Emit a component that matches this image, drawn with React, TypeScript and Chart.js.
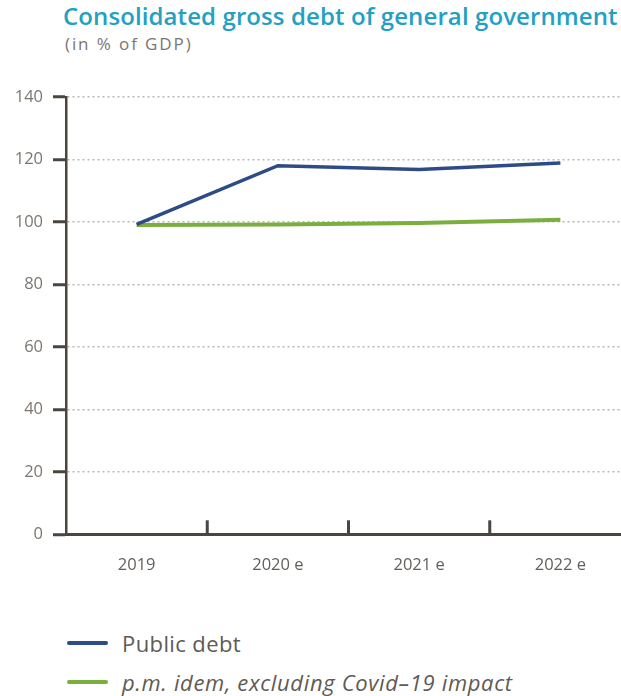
import React, { useEffect, useRef } from "react";
import { Chart, registerables } from "chart.js";

Chart.register(...registerables);

const years = ["2019", "2020 e", "2021 e", "2022 e"];
const publicDebt = [99.2, 118, 116.8, 118.9];
const excludingCovid = [99, 99.2, 99.7, 100.7];
const yTicks = [0, 20, 40, 60, 80, 100, 120, 140];

const AXIS = "#4a463f";
const BLUE = "#2d4b87";
const GREEN = "#7aae3f";
const FONT = "'Open Sans', 'Noto Sans', sans-serif";

// Short upward marks on the category axis, placed between categories
const categoryMarks = {
  id: "categoryMarks",
  afterDraw(chart: any) {
    const x = chart.scales.x;
    const ctx = chart.ctx;
    const y0 = x.top;
    ctx.save();
    ctx.strokeStyle = AXIS;
    ctx.lineWidth = 3;
    for (let i = 1; i < years.length; i++) {
      const px = (x.getPixelForTick(i - 1) + x.getPixelForTick(i)) / 2;
      ctx.beginPath();
      ctx.moveTo(px, y0);
      ctx.lineTo(px, y0 - 14);
      ctx.stroke();
    }
    ctx.restore();
  },
};

export default function App() {
  const ref = useRef<HTMLCanvasElement | null>(null);

  useEffect(() => {
    if (!ref.current) return;
    const chart = new Chart(ref.current, {
      type: "line",
      data: {
        labels: years,
        datasets: [
          {
            label: "Public debt",
            data: publicDebt,
            borderColor: BLUE,
            borderWidth: 3.5,
            pointRadius: 0,
            tension: 0,
          },
          {
            label: "p.m. idem, excluding Covid-19 impact",
            data: excludingCovid,
            borderColor: GREEN,
            borderWidth: 4,
            pointRadius: 0,
            tension: 0,
          },
        ],
      },
      options: {
        animation: false,
        responsive: false,
        layout: { padding: { top: 97, right: 9, bottom: 25.7, left: 0 } },
        plugins: { legend: { display: false }, tooltip: { enabled: false } },
        scales: {
          x: {
            offset: true,
            afterFit(scale: any) {
              scale.height = 40;
            },
            grid: { offset: true, drawOnChartArea: false, drawTicks: false },
            border: { display: true, color: AXIS, width: 3 },
            ticks: {
              padding: 21,
              color: "#625e5a",
              font: { family: FONT, size: 16.5 },
            },
          },
          y: {
            min: 0,
            max: 140,
            afterFit(scale: any) {
              scale.width = 66;
            },
            afterBuildTicks(scale: any) {
              scale.ticks = yTicks.map((v) => ({ value: v }));
            },
            grid: {
              color: "#b8b8b8",
              lineWidth: 1.6,
              tickLength: 13,
              tickColor: AXIS,
              tickWidth: 3,
              tickBorderDash: [1, 0],
            },
            border: { display: true, color: AXIS, width: 2.5, dash: [2, 3] },
            ticks: {
              padding: 10,
              color: "#7c7670",
              font: { family: FONT, size: 16.5 },
            },
          },
        },
      },
      plugins: [categoryMarks],
    });
    return () => chart.destroy();
  }, []);

  const legendRow = (color: string, italic: boolean, top: number, text: string) => (
    <div
      style={{
        position: "absolute",
        left: 67,
        top,
        height: 30,
        display: "flex",
        alignItems: "center",
        fontSize: 22,
        letterSpacing: italic ? 0.65 : 0.4,
        fontStyle: italic ? "italic" : "normal",
        color: "#5f5a56",
        whiteSpace: "nowrap",
      }}
    >
      <span
        style={{
          display: "inline-block",
          width: 41,
          height: 4,
          borderRadius: 2,
          background: color,
          marginRight: 14,
        }}
      />
      {text}
    </div>
  );

  return (
    <div
      style={{
        position: "fixed",
        left: 0,
        top: 0,
        width: 621,
        height: 696,
        overflow: "hidden",
        background: "#fff",
        fontFamily: FONT,
      }}
    >
      <div
        style={{
          position: "absolute",
          left: 63,
          top: 4,
          fontSize: 24,
          lineHeight: 1,
          fontWeight: 600,
          color: "#23a0c4",
          whiteSpace: "nowrap",
          letterSpacing: 0.1,
        }}
      >
        Consolidated gross debt of general government
      </div>
      <div
        style={{
          position: "absolute",
          left: 65,
          top: 35,
          fontSize: 17,
          lineHeight: 1,
          color: "#7a7672",
          whiteSpace: "nowrap",
          letterSpacing: 1.9,
        }}
      >
        (in % of GDP)
      </div>
      <canvas
        ref={ref}
        width={640}
        height={600}
        style={{ position: "absolute", left: 0, top: 0 }}
      />
      {legendRow(BLUE, false, 627.5, "Public debt")}
      {legendRow(GREEN, true, 667, "p.m. idem, excluding Covid–19 impact")}
    </div>
  );
}
